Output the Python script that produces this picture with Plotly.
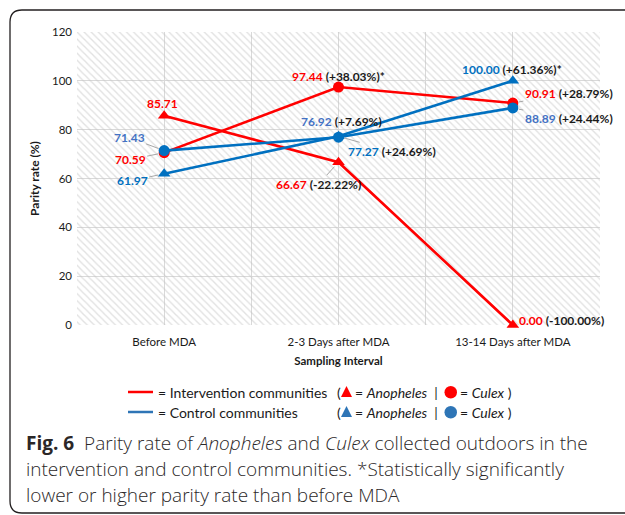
import plotly.graph_objects as go

categories = ["Before MDA", "2-3 Days after MDA", "13-14 Days after MDA"]
int_anopheles = [85.71, 66.67, 0.00]
int_culex = [70.59, 97.44, 90.91]
ctl_anopheles = [61.97, 77.27, 100.00]
ctl_culex = [71.43, 76.92, 88.89]
int_anopheles_chg = [None, "-22.22%", "-100.00%"]
int_culex_chg = [None, "+38.03%", "+28.79%"]
ctl_anopheles_chg = [None, "+24.69%", "+61.36%"]
ctl_culex_chg = [None, "+7.69%", "+24.44%"]
int_culex_sig = [False, True, False]
ctl_anopheles_sig = [False, False, True]
y_ticks = [0, 20, 40, 60, 80, 100, 120]
Y_MAX = 120

W, H = 625, 515
L, R, T, B = 77, 25, 32, 190
PW = W - L - R
PH = H - T - B

def X(px):
    return (px - L) / PW

def Y(py):
    return (H - B - py) / PH

RED = "#FF0000"
BLUE = "#0070C0"
BLUE2 = "#4472C4"
LBLUE = "#2E75B6"
FONT = "Lato"

xs = list(range(len(categories)))
fig = go.Figure()

# hatched background
fig.add_trace(go.Bar(x=xs, y=[Y_MAX] * len(xs), width=1,
                     marker=dict(color="rgba(0,0,0,0)", line=dict(width=0),
                                 pattern=dict(shape="\\", fgcolor="#c4c4c4", bgcolor="rgba(0,0,0,0)",
                                              size=5, solidity=0.28)),
                     hoverinfo="skip", showlegend=False))

def line(vals, color, symbol):
    fig.add_trace(go.Scatter(x=xs, y=vals, mode="lines+markers",
                             line=dict(color=color, width=2.6),
                             marker=dict(symbol=symbol, size=11, color=color),
                             cliponaxis=False, showlegend=False))

line(int_anopheles, RED, "triangle-up")
line(int_culex, RED, "circle")
line(ctl_anopheles, BLUE, "triangle-up")
line(ctl_culex, BLUE, "circle")

def lbl(i, vals, chg, sig, color, ax=None, ay=None, xshift=0, yshift=0):
    v = vals[i]
    t = f"<span style='color:{color}'>{v:.2f}</span>"
    if chg[i]:
        t += f" <span style='color:#1a1a1a'>({chg[i]})" + ("*" if sig and sig[i] else "") + "</span>"
    t = "<b>" + t + "</b>"
    if ax is None:
        fig.add_annotation(x=i, y=v, text=t, showarrow=False, xshift=xshift, yshift=yshift,
                           font=dict(family=FONT, size=12))
    else:
        fig.add_annotation(x=i, y=v, text=t, showarrow=True, ax=ax, ay=ay, arrowhead=0,
                           arrowwidth=1, arrowcolor="#a6a6a6", standoff=6,
                           font=dict(family=FONT, size=12))

lbl(0, int_anopheles, int_anopheles_chg, None, RED, xshift=-2, yshift=12)
lbl(1, int_anopheles, int_anopheles_chg, None, RED, ax=-20, ay=22)
lbl(2, int_anopheles, int_anopheles_chg, None, RED, xshift=49, yshift=5)
lbl(0, int_culex, int_culex_chg, int_culex_sig, RED, ax=-34, ay=7)
lbl(1, int_culex, int_culex_chg, int_culex_sig, RED, xshift=0, yshift=11)
lbl(2, int_culex, int_culex_chg, int_culex_sig, RED, ax=56, ay=-10)
lbl(0, ctl_anopheles, ctl_anopheles_chg, ctl_anopheles_sig, BLUE, ax=-32, ay=7)
lbl(1, ctl_anopheles, ctl_anopheles_chg, ctl_anopheles_sig, BLUE, ax=53, ay=15)
lbl(2, ctl_anopheles, ctl_anopheles_chg, ctl_anopheles_sig, BLUE, xshift=-1, yshift=11)
lbl(0, ctl_culex, ctl_culex_chg, None, BLUE2, ax=-35, ay=-13)
lbl(1, ctl_culex, ctl_culex_chg, None, BLUE2, xshift=3, yshift=16)
lbl(2, ctl_culex, ctl_culex_chg, None, BLUE2, ax=56, ay=11)

# legend (custom)
LEG_FONT = dict(family=FONT, size=14, color="#1a1a1a")
for py, label, col, lcol in [(392, "= Intervention communities", RED, RED),
                             (412, "= Control communities", LBLUE, LBLUE)]:
    fig.add_shape(type="line", xref="paper", yref="paper", x0=X(128), x1=X(153), y0=Y(py), y1=Y(py),
                  line=dict(color=lcol, width=2.5))
    fig.add_annotation(xref="paper", yref="paper", x=X(156), y=Y(py), xanchor="left", yanchor="middle",
                       text=label, showarrow=False, font=LEG_FONT)
    fig.add_annotation(xref="paper", yref="paper", x=X(335), y=Y(py), xanchor="left", yanchor="middle",
                       text="(", showarrow=False, font=LEG_FONT)
    fig.add_shape(type="path", xref="paper", yref="paper",
                  path=f"M {X(341)} {Y(py + 5)} L {X(352)} {Y(py + 5)} L {X(346.5)} {Y(py - 6)} Z",
                  fillcolor=col, line=dict(width=0))
    fig.add_annotation(xref="paper", yref="paper", x=X(353), y=Y(py), xanchor="left", yanchor="middle",
                       text="= <i>Anopheles</i>  |", showarrow=False, font=LEG_FONT)
    fig.add_shape(type="circle", xref="paper", yref="paper", x0=X(444.5), x1=X(457), y0=Y(py - 6), y1=Y(py + 6.5),
                  fillcolor=col, line=dict(width=0))
    fig.add_annotation(xref="paper", yref="paper", x=X(458), y=Y(py), xanchor="left", yanchor="middle",
                       text="= <i>Culex</i> )", showarrow=False, font=LEG_FONT)

# caption
cap_lines = ["<b>Fig. 6</b>  Parity rate of <i>Anopheles</i> and <i>Culex</i> collected outdoors in the",
             "intervention and control communities. *Statistically significantly",
             "lower or higher parity rate than before MDA"]
for k, ln in enumerate(cap_lines):
    fig.add_annotation(xref="paper", yref="paper", x=X(24), y=Y(443 + 26 * k), xanchor="left",
                       yanchor="middle", align="left", showarrow=False, text=ln,
                       font=dict(family="Open Sans", size=19, color="#2b2728", weight=300))

# rounded frame
r = 12
path = (f"M {X(640)} {Y(513)} L {X(10 + r)} {Y(513)} Q {X(10)} {Y(513)} {X(10)} {Y(513 - r)} "
        f"L {X(10)} {Y(10 + r)} Q {X(10)} {Y(10)} {X(10 + r)} {Y(10)} L {X(640)} {Y(10)}")
fig.add_shape(type="path", xref="paper", yref="paper", path=path, line=dict(color="#231f20", width=1.3))

fig.update_layout(
    width=W, height=H, margin=dict(l=L, r=R, t=T, b=B),
    paper_bgcolor="white", plot_bgcolor="white",
    font=dict(family=FONT, size=11, color="#1a1a1a"),
    xaxis=dict(range=[-0.5, 2.5], tickvals=xs, ticktext=categories, showgrid=True,
               gridcolor="#d9d9d9", gridwidth=1.3, zeroline=False, showline=False, ticks="",
               minor=dict(tickvals=[-0.5, 0.5, 1.5, 2.5], showgrid=True, gridcolor="#d9d9d9", gridwidth=1.3),
               tickfont=dict(size=11.5), ticklabelstandoff=8,
               title=dict(text="<b>Sampling Interval</b>", font=dict(size=11.5), standoff=10)),
    yaxis=dict(range=[0, Y_MAX], tickvals=y_ticks, showgrid=True, gridcolor="#d9d9d9", gridwidth=1.3,
               zeroline=False, showline=False, ticks="", tickfont=dict(size=11.5), ticklabelstandoff=4,
               title=dict(text="<b>Parity rate (%)</b>", font=dict(size=12), standoff=9)),
    bargap=0,
)

fig.write_html("out.html", config={"displayModeBar": False},
               post_script="document.body.style.margin='0px';document.body.style.padding='0px';")
